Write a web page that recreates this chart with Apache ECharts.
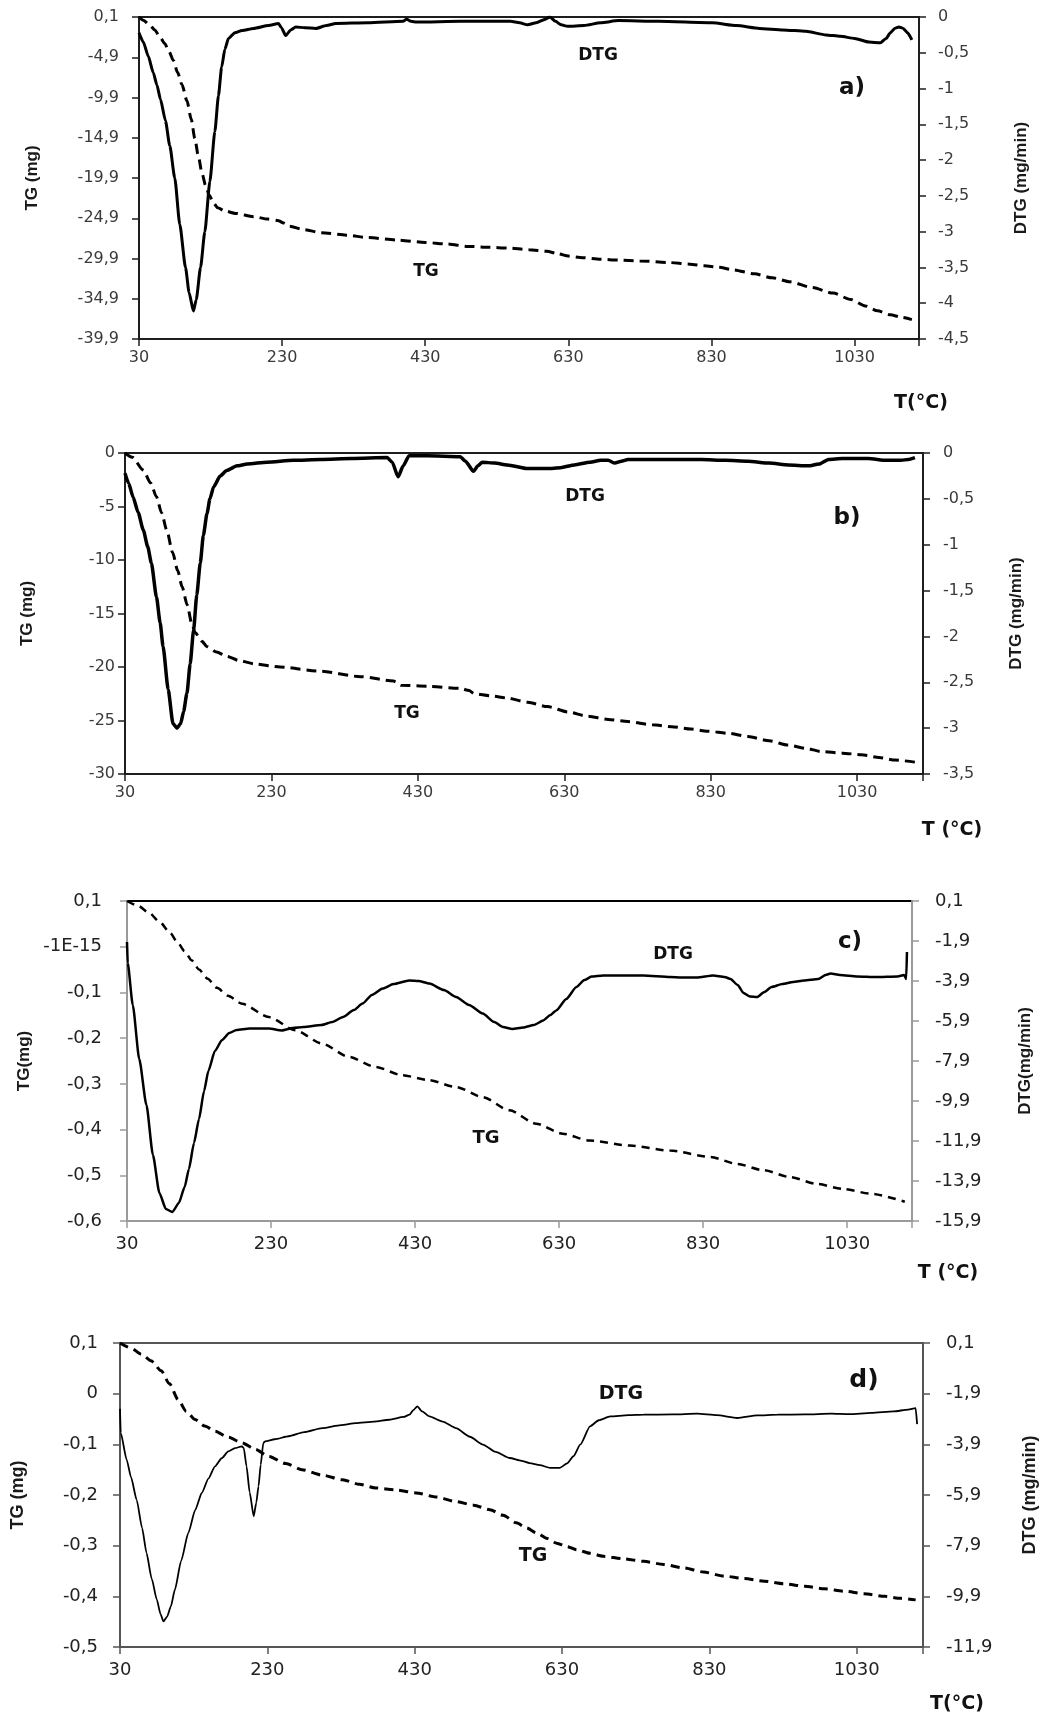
<!DOCTYPE html>
<html>
<head>
<meta charset="utf-8">
<script src="https://cdn.jsdelivr.net/npm/echarts/dist/echarts.min.js"></script>
<style>
html,body{margin:0;padding:0;background:#fff;}
#chart{width:1051px;height:1717px;}
</style>
</head>
<body>
<div id="chart"></div>
<script>
// ---------------- data (temperature °C, value) ----------------
const xTickLabels = ['30','230','430','630','830','1030'];

// panel a)
const aTG = [[30,0.1],[36,-0.3],[45,-0.9],[52,-1.5],[60,-2.5],[66,-3.2],[72,-4.2],[78,-5.3],[84,-6.8],[90,-8.3],[97,-10.3],[103,-12.6],[108,-15],[113,-17.2],[118,-19.3],[123,-20.8],[128,-22],[134,-23],[140,-23.6],[150,-24],[165,-24.3],[190,-24.7],[210,-25],[225,-25.2],[232,-25.5],[240,-25.9],[260,-26.3],[285,-26.7],[320,-27],[350,-27.3],[390,-27.6],[430,-27.9],[460,-28.1],[490,-28.4],[520,-28.5],[545,-28.6],[575,-28.8],[600,-29],[615,-29.3],[630,-29.6],[650,-29.8],[675,-30],[700,-30.1],[730,-30.2],[770,-30.4],[800,-30.6],[820,-30.8],[840,-31],[860,-31.3],[890,-31.8],[915,-32.3],[940,-32.8],[970,-33.5],[1000,-34.2],[1025,-35],[1045,-35.8],[1062,-36.4],[1080,-36.9],[1095,-37.2],[1110,-37.5]];
const aDTG = [[30,-0.22],[36,-0.35],[43,-0.55],[50,-0.78],[55,-0.95],[60,-1.15],[67,-1.45],[73,-1.8],[80,-2.25],[87,-2.9],[95,-3.5],[100,-3.85],[106,-4.11],[110,-3.95],[116,-3.5],[122,-3.0],[129,-2.3],[136,-1.6],[141,-1.1],[145.5,-0.7],[150,-0.45],[155,-0.3],[164,-0.22],[174,-0.19],[190,-0.16],[211,-0.12],[225,-0.09],[229,-0.15],[235,-0.26],[242,-0.18],[249,-0.14],[262,-0.15],[277,-0.16],[292,-0.12],[305,-0.09],[350,-0.08],[399,-0.06],[404,-0.03],[410,-0.06],[418,-0.07],[480,-0.06],[549,-0.06],[562,-0.08],[573,-0.11],[585,-0.08],[598,-0.03],[604,0],[612,-0.06],[620,-0.11],[629,-0.13],[652,-0.12],[675,-0.08],[700,-0.05],[756,-0.06],[831,-0.08],[865,-0.12],[897,-0.16],[930,-0.18],[962,-0.2],[990,-0.25],[1010,-0.27],[1030,-0.3],[1050,-0.35],[1066,-0.36],[1074,-0.3],[1080,-0.22],[1086,-0.16],[1092,-0.14],[1098,-0.16],[1104,-0.22],[1110,-0.32]];
const aTgTicks  = ['-39,9','-34,9','-29,9','-24,9','-19,9','-14,9','-9,9','-4,9','0,1'];
const aDtgTicks = ['-4,5','-4','-3,5','-3','-2,5','-2','-1,5','-1','-0,5','0'];

// panel b)
const bTG = [[30,0],[40,-0.4],[55,-1.6],[65,-2.8],[73,-4.1],[80,-5.6],[87,-7.2],[95,-9.3],[102,-11],[108,-12.5],[115,-14.2],[121,-15.9],[126,-16.8],[135,-17.6],[142,-18.1],[155,-18.6],[169,-19],[186,-19.4],[206,-19.7],[242,-20],[297,-20.4],[352,-20.9],[397,-21.3],[400,-21.4],[407,-21.7],[443,-21.8],[488,-22],[500,-22.2],[507,-22.5],[530,-22.7],[552,-22.9],[580,-23.3],[607,-23.7],[635,-24.2],[662,-24.6],[690,-24.9],[717,-25.1],[750,-25.4],[780,-25.6],[803,-25.8],[826,-26],[855,-26.2],[881,-26.5],[910,-26.9],[936,-27.3],[960,-27.6],[981,-27.9],[1010,-28.05],[1036,-28.2],[1060,-28.45],[1082,-28.7],[1110,-28.9]];
const bDTG = [[30,-0.22],[35,-0.33],[41,-0.48],[48,-0.65],[55,-0.84],[61,-1.02],[66,-1.2],[73,-1.57],[78,-1.85],[82,-2.11],[89,-2.58],[95.5,-2.95],[101,-3.0],[106,-2.95],[110,-2.82],[114.6,-2.62],[119,-2.3],[123.7,-1.93],[128,-1.55],[132.8,-1.2],[137,-0.9],[142,-0.66],[146,-0.5],[151,-0.37],[160,-0.25],[169,-0.19],[183,-0.14],[197,-0.12],[224,-0.1],[260,-0.08],[297,-0.07],[340,-0.06],[388,-0.05],[395,-0.1],[403,-0.26],[410,-0.14],[418,-0.03],[443,-0.03],[488,-0.04],[495,-0.09],[506,-0.2],[512,-0.14],[518,-0.1],[535,-0.11],[552,-0.13],[580,-0.17],[607,-0.17],[625,-0.16],[644,-0.13],[665,-0.1],[680,-0.08],[690,-0.08],[699,-0.11],[708,-0.09],[717,-0.07],[760,-0.07],[817,-0.07],[850,-0.08],[881,-0.09],[910,-0.11],[936,-0.13],[963,-0.14],[978,-0.12],[991,-0.07],[1010,-0.06],[1045,-0.06],[1070,-0.08],[1090,-0.08],[1100,-0.07],[1109,-0.05]];
const bTgTicks  = ['-30','-25','-20','-15','-10','-5','0'];
const bDtgTicks = ['-3,5','-3','-2,5','-2','-1,5','-1','-0,5','0'];

// panel c)
const cTG = [[30,0.1],[45,0.09],[60,0.075],[75,0.055],[90,0.03],[100,0.01],[110,-0.01],[120,-0.03],[130,-0.05],[142,-0.07],[155,-0.09],[170,-0.107],[190,-0.125],[227,-0.154],[264,-0.183],[301,-0.212],[338,-0.241],[375,-0.263],[412,-0.281],[449,-0.292],[487,-0.307],[524,-0.329],[561,-0.358],[598,-0.387],[635,-0.409],[672,-0.424],[728,-0.435],[784,-0.446],[840,-0.46],[877,-0.475],[914,-0.489],[951,-0.504],[988,-0.519],[1025,-0.53],[1062,-0.54],[1110,-0.558]];
const cDTG = [[30,-1.95],[31,-3.0],[38,-5.1],[47,-7.8],[57,-10.1],[66,-12.6],[75,-14.5],[84,-15.3],[93,-15.45],[102,-15.0],[110,-14.2],[116,-13.3],[123,-12.0],[130,-10.8],[137,-9.4],[143,-8.4],[152,-7.4],[162,-6.85],[172,-6.5],[182,-6.35],[200,-6.28],[227,-6.28],[245,-6.37],[260,-6.25],[275,-6.2],[300,-6.1],[315,-5.95],[330,-5.7],[345,-5.35],[357,-5.03],[370,-4.6],[385,-4.28],[400,-4.05],[422,-3.87],[435,-3.9],[450,-4.03],[470,-4.35],[487,-4.7],[505,-5.1],[524,-5.53],[540,-5.95],[552,-6.2],[565,-6.3],[580,-6.23],[595,-6.1],[608,-5.87],[618,-5.6],[626,-5.37],[640,-4.8],[654,-4.2],[665,-3.85],[675,-3.68],[691,-3.62],[720,-3.62],[747,-3.62],[784,-3.7],[800,-3.72],[821,-3.73],[844,-3.62],[860,-3.7],[868,-3.8],[878,-4.1],[886,-4.5],[895,-4.68],[905,-4.7],[915,-4.45],[925,-4.2],[940,-4.05],[955,-3.95],[970,-3.87],[990,-3.8],[1000,-3.6],[1007,-3.53],[1020,-3.6],[1044,-3.67],[1070,-3.7],[1100,-3.67],[1109,-3.6],[1112,-3.8],[1113,-2.45]];
const cTgTicks  = ['-0,6','-0,5','-0,4','-0,3','-0,2','-0,1','-1E-15','0,1'];
const cDtgTicks = ['-15,9','-13,9','-11,9','-9,9','-7,9','-5,9','-3,9','-1,9','0,1'];

// panel d)
const dTG = [[30,0.1],[45,0.09],[59,0.078],[72,0.065],[86,0.045],[97,0.02],[109,-0.012],[120,-0.035],[132,-0.051],[145,-0.064],[159,-0.074],[177,-0.086],[195.5,-0.097],[214,-0.11],[232,-0.124],[255,-0.138],[277,-0.15],[305,-0.161],[332,-0.17],[355,-0.179],[377,-0.186],[405,-0.19],[432,-0.196],[460,-0.204],[486,-0.213],[510,-0.22],[532,-0.229],[550,-0.24],[568,-0.255],[582,-0.265],[595.5,-0.275],[610,-0.286],[622.7,-0.295],[637,-0.302],[650,-0.308],[668,-0.315],[686,-0.321],[714,-0.326],[741,-0.331],[768,-0.337],[795.5,-0.344],[822,-0.352],[850,-0.36],[877,-0.365],[904.5,-0.37],[931,-0.375],[959,-0.38],[986,-0.385],[1013.6,-0.39],[1040,-0.395],[1068,-0.4],[1090,-0.404],[1110,-0.407]];
const dDTG = [[30,-2.5],[31,-3.45],[39,-4.5],[45,-5.2],[52.6,-6.09],[60,-7.2],[66,-8.19],[73,-9.2],[80,-10.03],[85,-10.6],[89,-10.89],[94,-10.7],[99,-10.3],[104.5,-9.64],[113,-8.5],[122.7,-7.4],[132,-6.5],[141,-5.82],[150,-5.25],[159,-4.77],[168,-4.45],[177,-4.18],[186,-4.05],[195.5,-3.98],[198,-4.05],[201.8,-4.77],[206,-5.8],[211.5,-6.74],[215,-6.2],[218,-5.56],[221,-4.7],[224.5,-3.85],[227,-3.78],[240,-3.7],[259,-3.58],[280,-3.42],[304.5,-3.26],[330,-3.14],[350,-3.06],[375,-3.0],[395.5,-2.93],[415,-2.82],[423,-2.73],[428,-2.55],[433.6,-2.4],[440,-2.6],[450,-2.8],[468,-3.0],[486,-3.26],[505,-3.6],[522.7,-3.91],[540,-4.2],[559,-4.44],[575,-4.55],[586,-4.64],[600,-4.72],[613.6,-4.83],[627,-4.83],[637,-4.65],[645.5,-4.37],[655,-3.9],[668,-3.19],[680,-2.95],[695.5,-2.8],[720,-2.75],[741,-2.73],[780,-2.72],[813.6,-2.69],[840,-2.75],[868,-2.86],[895,-2.76],[922.7,-2.73],[960,-2.72],[995.5,-2.69],[1020,-2.71],[1050,-2.66],[1080,-2.6],[1100,-2.53],[1110,-2.47],[1112,-3.1]];
const dTgTicks  = ['-0,5','-0,4','-0,3','-0,2','-0,1','0','0,1'];
const dDtgTicks = ['-11,9','-9,9','-7,9','-5,9','-3,9','-1,9','0,1'];

// ---------------- layout / style config ----------------
const X_MIN = 30, X_MAX = 1120, X_STEP = 200;
const panels = [
  { tg:aTG, dtg:aDTG, tgTicks:aTgTicks, dtgTicks:aDtgTicks,
    tgRange:[-39.9,0.1,5], dtgRange:[-4.5,0,0.5],
    grid:{left:139,top:17,width:780,height:322},
    axisColor:'#1e1e1e', topColor:'#1e1e1e', labelSize:16, labelColor:'#3a3a3a',
    mL:20, mR:19, mX:11, gapL:98, gapR:94, nameSize:17,
    tgName:'TG (mg)', dtgName:'DTG (mg/min)',
    dtgW:3, tgW:3, dash:[10,6],
    texts:[['DTG',598,56,'bold 17px "DejaVu Sans"'],['TG',426,272,'bold 17px "DejaVu Sans"'],['a)',852,88,'bold 23px "DejaVu Sans"'],['T(°C)',921,403,'bold 19px "DejaVu Sans"']] },
  { tg:bTG, dtg:bDTG, tgTicks:bTgTicks, dtgTicks:bDtgTicks,
    tgRange:[-30,0,5], dtgRange:[-3.5,0,0.5],
    grid:{left:125,top:453,width:798,height:321},
    axisColor:'#1e1e1e', topColor:'#1e1e1e', labelSize:16, labelColor:'#3a3a3a',
    mL:10, mR:20, mX:11, gapL:89, gapR:85, nameSize:17,
    tgName:'TG (mg)', dtgName:'DTG (mg/min)',
    dtgW:3.5, tgW:3, dash:[10,6],
    texts:[['DTG',585,497,'bold 17px "DejaVu Sans"'],['TG',407,714,'bold 17px "DejaVu Sans"'],['b)',847,518,'bold 23px "DejaVu Sans"'],['T (°C)',952,830,'bold 19px "DejaVu Sans"']] },
  { tg:cTG, dtg:cDTG, tgTicks:cTgTicks, dtgTicks:cDtgTicks,
    tgRange:[-0.6,0.1,0.1], dtgRange:[-15.9,0.1,2],
    grid:{left:127,top:901,width:785,height:320},
    axisColor:'#9a9a9a', topColor:'#000000', labelSize:18, labelColor:'#222',
    mL:25, mR:23, mX:14, gapL:91, gapR:105, nameSize:17,
    tgName:'TG(mg)', dtgName:'DTG(mg/min)',
    dtgW:2.5, tgW:2.5, dash:[8,6],
    texts:[['DTG',673,955,'bold 17px "DejaVu Sans"'],['TG',486,1138,'bold 18px "DejaVu Sans"'],['c)',850,942,'bold 23px "DejaVu Sans"'],['T (°C)',948,1273,'bold 19px "DejaVu Sans"']] },
  { tg:dTG, dtg:dDTG, tgTicks:dTgTicks, dtgTicks:dDtgTicks,
    tgRange:[-0.5,0.1,0.1], dtgRange:[-11.9,0.1,2],
    grid:{left:120,top:1343,width:803,height:304},
    axisColor:'#555555', topColor:'#555555', labelSize:18, labelColor:'#222',
    mL:22, mR:23, mX:14, gapL:93, gapR:98, nameSize:18,
    tgName:'TG (mg)', dtgName:'DTG (mg/min)',
    dtgW:1.8, tgW:3, dash:[9,6],
    texts:[['DTG',621,1394,'bold 19px "DejaVu Sans"'],['TG',533,1556,'bold 19px "DejaVu Sans"'],['d)',864,1380,'bold 25px "DejaVu Sans"'],['T(°C)',957,1704,'bold 19px "DejaVu Sans"']] }
];

function labeler(ticks, min, step){
  return function(v){
    const i = Math.round((v - min) / step);
    if (i < 0 || i >= ticks.length) return '';
    if (Math.abs(min + i * step - v) > step * 0.01) return '';
    return ticks[i];
  };
}

const option = {
  animation:false,
  backgroundColor:'#ffffff',
  textStyle:{fontFamily:'"DejaVu Sans", sans-serif'},
  grid:[], xAxis:[], yAxis:[], series:[], graphic:[]
};

panels.forEach((p, i) => {
  option.grid.push(Object.assign({show:true, borderColor:p.topColor, borderWidth:2, backgroundColor:'transparent', containLabel:false}, p.grid));
  const line = {show:true, lineStyle:{color:p.axisColor, width:2}};
  const tick = {show:true, inside:false, length:7, lineStyle:{color:p.axisColor, width:1.5}};
  const lab = {color:p.labelColor, fontSize:p.labelSize, fontFamily:'"DejaVu Sans", sans-serif'};
  option.xAxis.push({
    type:'value', gridIndex:i, min:X_MIN, max:X_MAX, interval:X_STEP,
    axisLine:Object.assign({onZero:false}, line), axisTick:tick, splitLine:{show:false},
    axisLabel:Object.assign({margin:p.mX, formatter:labeler(xTickLabels, X_MIN, X_STEP)}, lab)
  });
  const nameStyle = {fontFamily:'"Liberation Sans", Arial, sans-serif', fontWeight:'bold', fontSize:p.nameSize, color:'#1a1a1a'};
  option.yAxis.push({
    type:'value', gridIndex:i, position:'left', min:p.tgRange[0], max:p.tgRange[1], interval:p.tgRange[2],
    name:p.tgName, nameLocation:'middle', nameRotate:90, nameGap:p.gapL, nameTextStyle:nameStyle,
    axisLine:Object.assign({onZero:false}, line), axisTick:tick, splitLine:{show:false},
    axisLabel:Object.assign({margin:p.mL, formatter:labeler(p.tgTicks, p.tgRange[0], p.tgRange[2])}, lab)
  });
  option.yAxis.push({
    type:'value', gridIndex:i, position:'right', min:p.dtgRange[0], max:p.dtgRange[1], interval:p.dtgRange[2],
    name:p.dtgName, nameLocation:'middle', nameRotate:90, nameGap:p.gapR, nameTextStyle:nameStyle,
    axisLine:Object.assign({onZero:false}, line), axisTick:tick, splitLine:{show:false},
    axisLabel:Object.assign({margin:p.mR, formatter:labeler(p.dtgTicks, p.dtgRange[0], p.dtgRange[2])}, lab)
  });
  option.series.push({
    name:'TG', type:'line', xAxisIndex:i, yAxisIndex:2*i, data:p.tg,
    showSymbol:false, smooth:0.25, smoothMonotone:'x',
    lineStyle:{color:'#000', width:p.tgW, type:p.dash}
  });
  option.series.push({
    name:'DTG', type:'line', xAxisIndex:i, yAxisIndex:2*i+1, data:p.dtg,
    showSymbol:false, smooth:0.2, smoothMonotone:'x',
    lineStyle:{color:'#000', width:p.dtgW, type:'solid'}
  });
  p.texts.forEach(t => {
    option.graphic.push({type:'text', x:t[1], y:t[2], z:100,
      style:{text:t[0], font:t[3], fill:'#111', align:'center', verticalAlign:'middle'}});
  });
});

const chart = echarts.init(document.getElementById('chart'), null, {renderer:'canvas'});
chart.setOption(option);
</script>
</body>
</html>
